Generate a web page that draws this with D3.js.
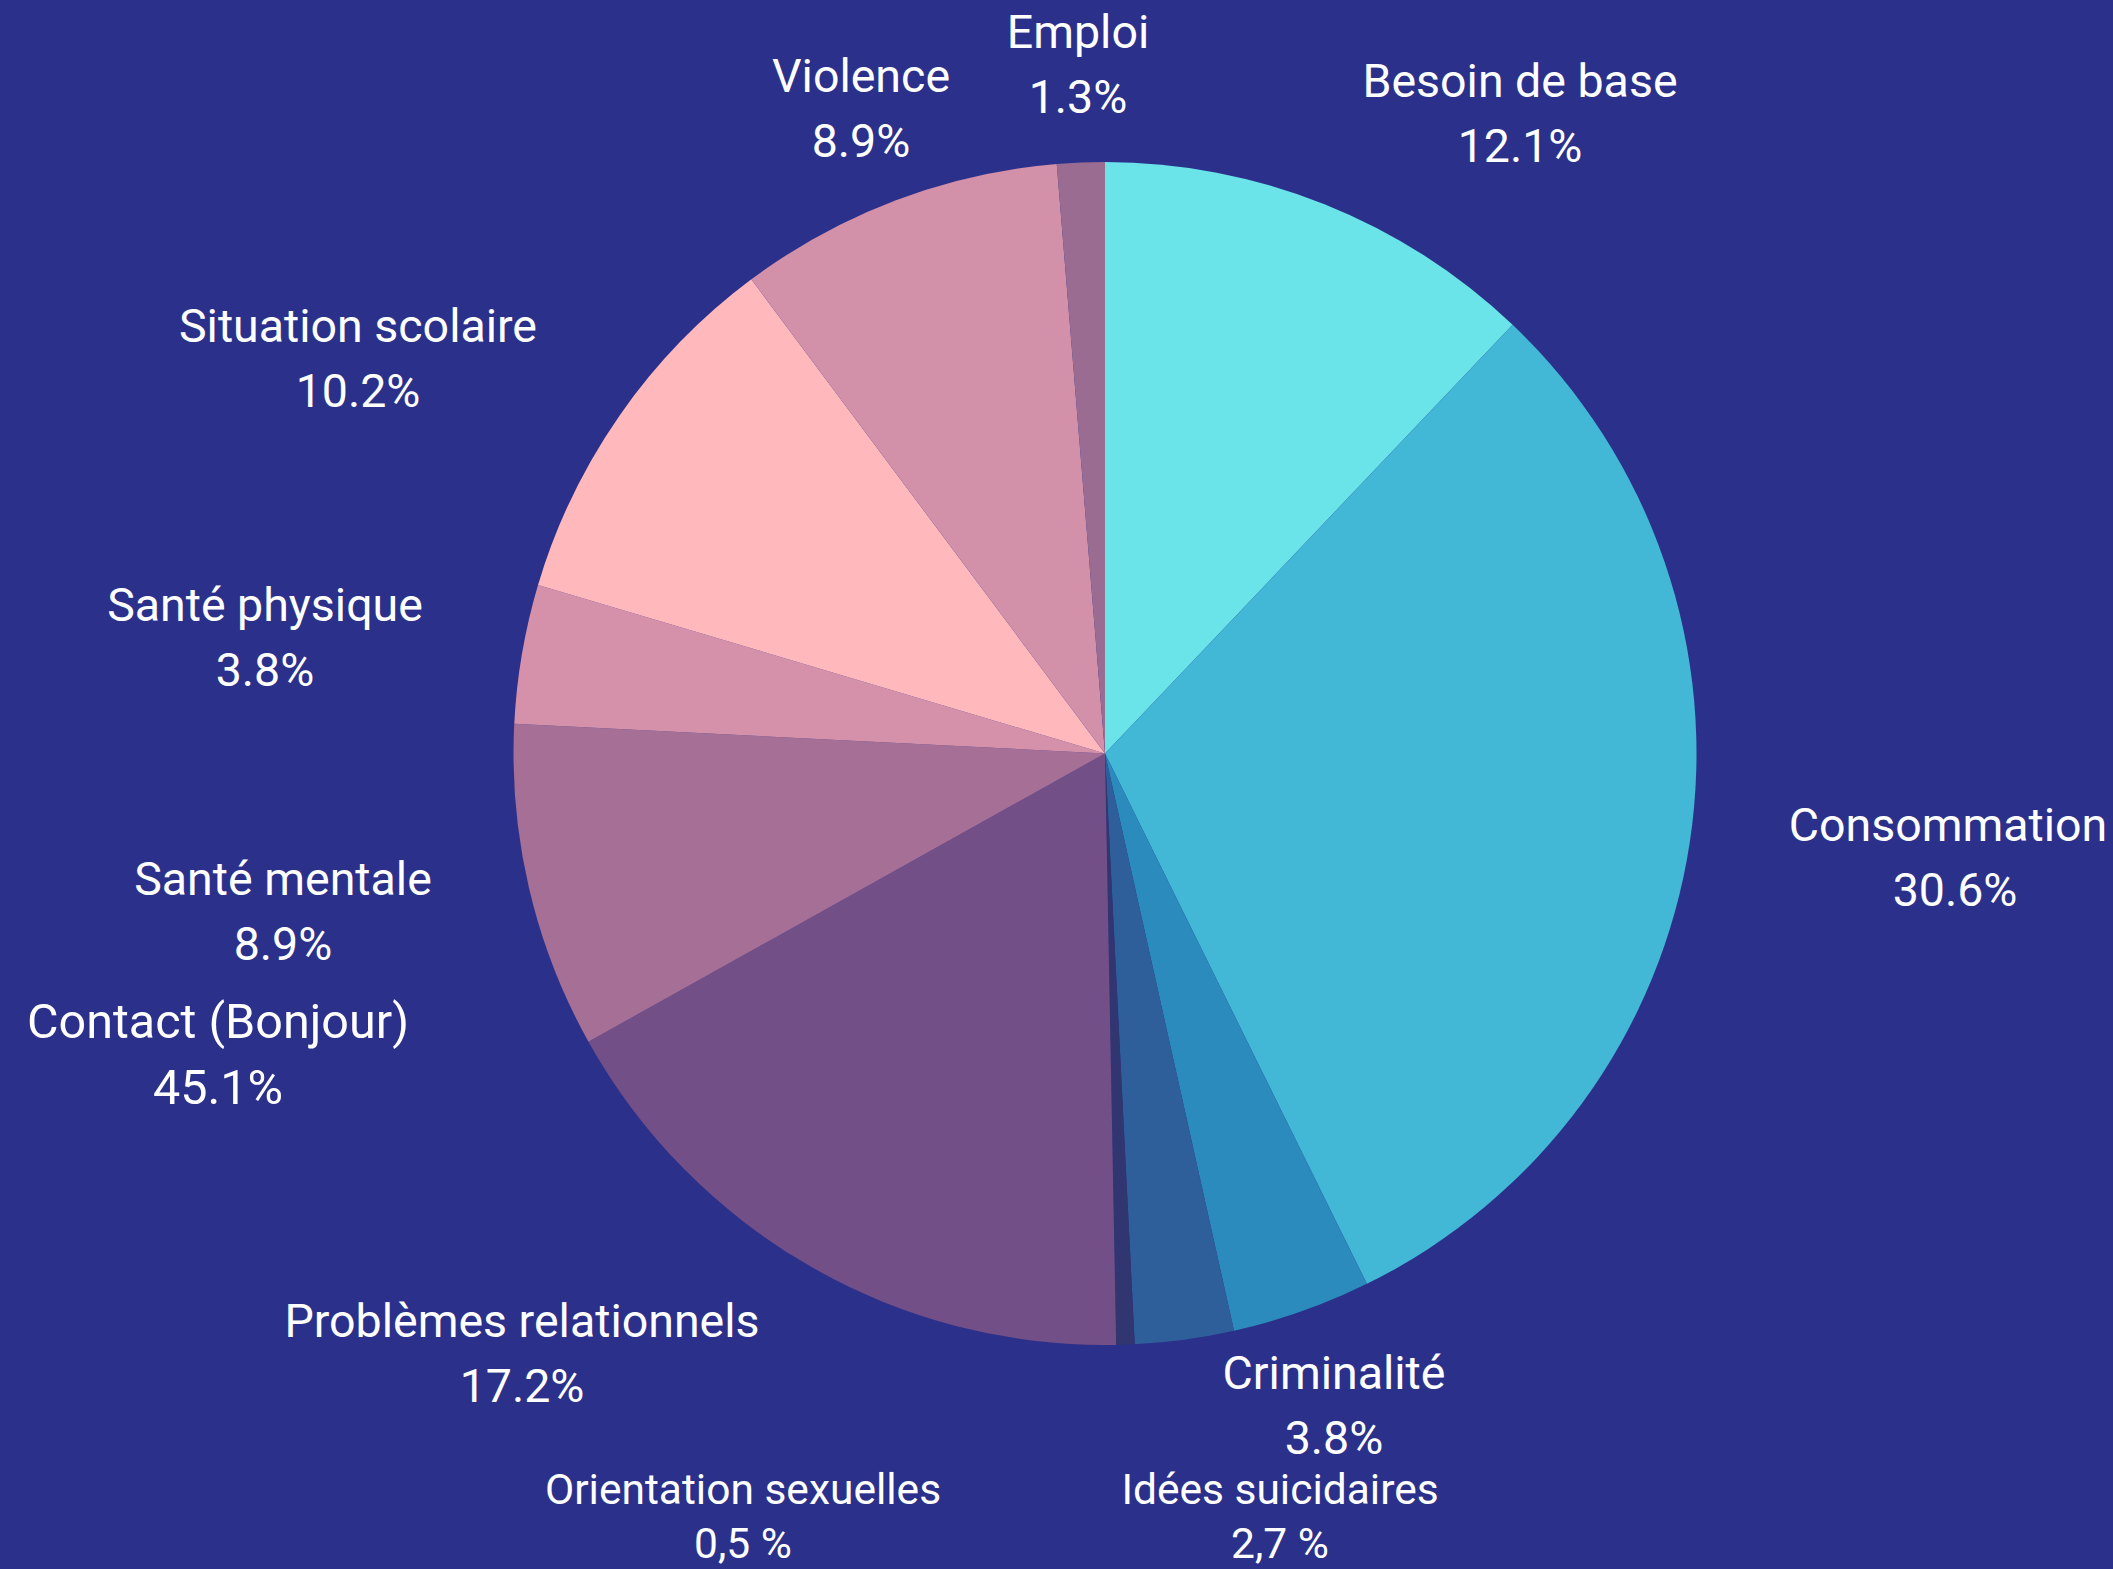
<!DOCTYPE html>
<html>
<head>
<meta charset="utf-8">
<script src="https://cdn.jsdelivr.net/npm/d3@7/dist/d3.min.js"></script>
<style>
  html, body { margin: 0; padding: 0; background: #2b318b; }
  svg { display: block; }
  text { font-family: Roboto, "Noto Sans", sans-serif; fill: #ffffff; }
</style>
</head>
<body>
<script>
// ---- data ----
const categories = ["Besoin de base", "Consommation", "Criminalité", "Idées suicidaires",
  "Orientation sexuelles", "Problèmes relationnels", "Santé mentale", "Santé physique",
  "Situation scolaire", "Violence", "Emploi"];
const values = [12.1, 30.6, 3.8, 2.7, 0.5, 17.2, 8.9, 3.8, 10.2, 8.9, 1.3];
const valueLabels = ["12.1%", "30.6%", "3.8%", "2,7 %", "0,5 %", "17.2%", "8.9%", "3.8%", "10.2%", "8.9%", "1.3%"];
// extra annotation shown without a slice
const noteCategory = ["Contact (Bonjour)"];
const noteLabel = ["45.1%"];

// ---- styles / layout ----
const colors = ["#6ae4e8", "#42b7d6", "#2b8bbc", "#2f5f9a", "#313570", "#734f87",
  "#a56f96", "#d691aa", "#ffb9bc", "#d390a9", "#9b6c92"];
// label block centre offsets from pie centre (px), font size, line gap, value-line x shift
const labelOffsets = [[415, -640], [843, 104], [229, 652], [175, 763], [-362, 763], [-583, 600],
  [-822, 158], [-840, -116], [-747, -395], [-244, -645], [-27, -689]];
const labelSizes = [46.5, 46.5, 46.5, 42.5, 42.5, 46.5, 46.5, 46.5, 46.5, 46.5, 46.5];
const labelGaps = [65, 65, 65, 54, 54, 65, 65, 65, 65, 65, 65];
const valueShift = [0, 7, 0, 0, 0, 0, 0, 0, 0, 0, 0];
const noteOffsets = [[-887, 301]];
const noteSize = 48.5;

const W = 2113, H = 1569;
const cx = 1105, cy = 753.5, R = 591.5;

const svg = d3.select("body").append("svg").attr("width", W).attr("height", H);
svg.append("rect").attr("width", W).attr("height", H).attr("fill", "#2b318b");

const g = svg.append("g").attr("transform", `translate(${cx},${cy})`);
const pie = d3.pie().sort(null).value(d => d.value);
const arc = d3.arc().innerRadius(0).outerRadius(R);
const data = categories.map((c, i) => ({ name: c, value: values[i], label: valueLabels[i], color: colors[i] }));

g.selectAll("path.slice").data(pie(data)).enter().append("path")
  .attr("class", "slice")
  .attr("d", arc)
  .attr("fill", d => d.data.color);

function addLabel(name, pct, off, size, gap, shift) {
  const t = g.append("g").attr("transform", `translate(${off[0]},${off[1]})`);
  t.append("text").attr("text-anchor", "middle").attr("dominant-baseline", "central")
    .attr("y", -gap / 2).style("font-size", size + "px").text(name);
  t.append("text").attr("text-anchor", "middle").attr("dominant-baseline", "central")
    .attr("x", shift).attr("y", gap / 2).style("font-size", size + "px").text(pct);
}
data.forEach((d, i) => addLabel(d.name, d.label, labelOffsets[i], labelSizes[i], labelGaps[i], valueShift[i]));
noteCategory.forEach((c, i) => addLabel(c, noteLabel[i], noteOffsets[i], noteSize, 66, 0));
</script>
</body>
</html>
